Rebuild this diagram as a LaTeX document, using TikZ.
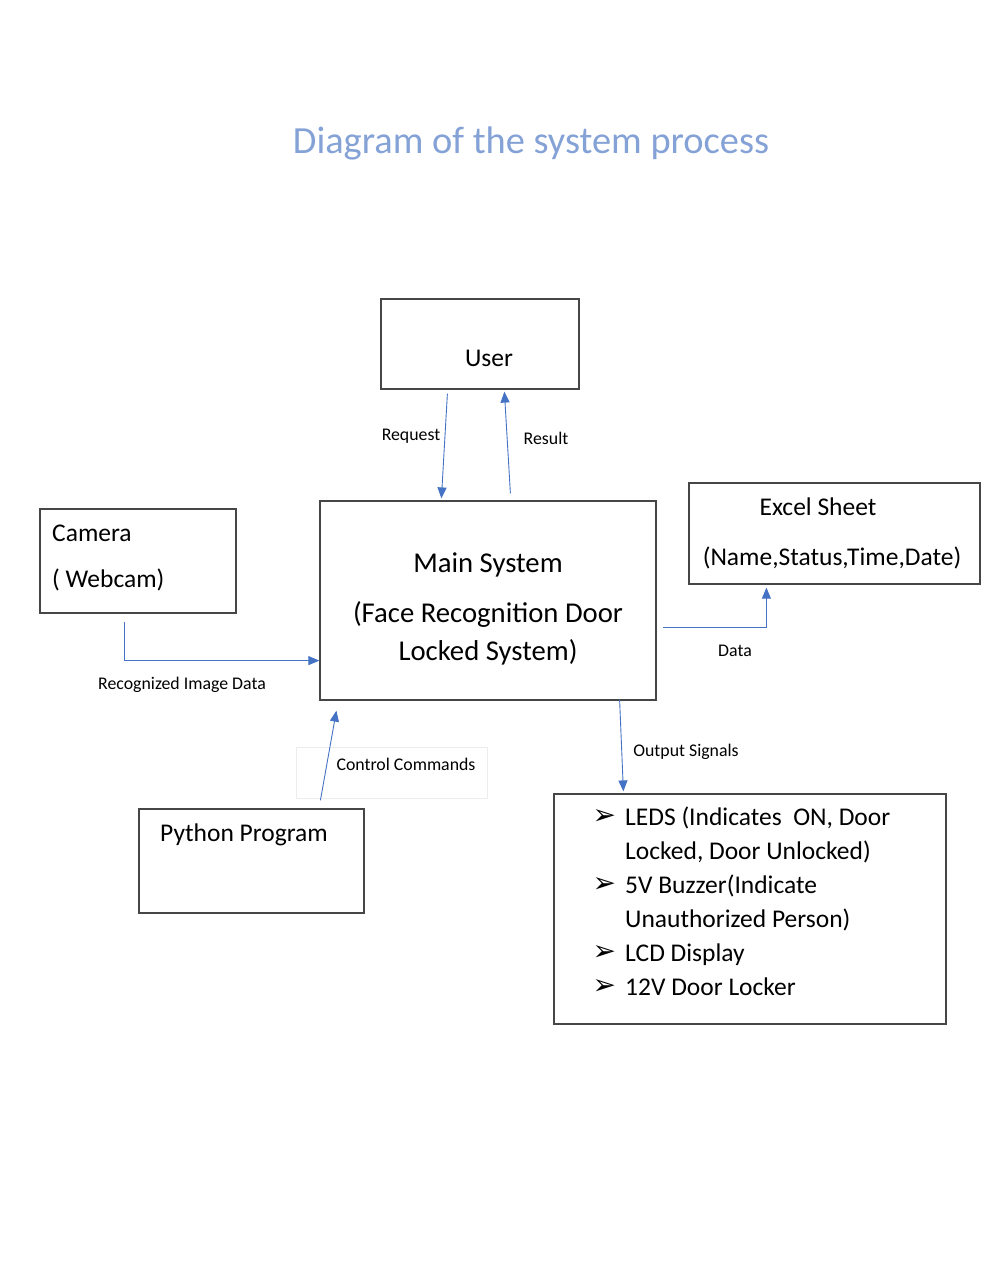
\documentclass[tikz,border=0pt]{standalone}
\usepackage{fontspec}
\setmainfont{Carlito}
\newfontfamily\dingfont{DejaVu Sans}
\usetikzlibrary{arrows.meta}
\definecolor{flowblue}{RGB}{68,114,196}
\definecolor{titleblue}{RGB}{132,162,214}
\definecolor{boxgray}{RGB}{70,70,70}
\definecolor{faintgray}{RGB}{236,236,236}
\newcommand{\bul}{\llap{\raisebox{1pt}{\dingfont\fontsize{28}{28}\selectfont ➢}\hspace{9pt}}}
\begin{document}
\begin{tikzpicture}[
        x=1pt, y=-1pt,
        box/.style={draw=boxgray, line width=1.2pt, inner sep=0pt},
        mid/.style={anchor=base, inner sep=0pt, font=\fontsize{25.5}{30}\selectfont},
        big/.style={anchor=base, inner sep=0pt, font=\fontsize{28.7}{34}\selectfont},
        small/.style={anchor=base, inner sep=0pt, font=\fontsize{17.8}{21}\selectfont},
        flow/.style={draw=flowblue, line width=0.9pt, -{Triangle[length=11pt,width=9pt]}}
    ]
 \useasboundingbox (0,0) rectangle (989,1280);
 \node[anchor=base, inner sep=0pt, text=titleblue, font=\fontsize{38.4}{46}\selectfont] (title) at (531,153) {Diagram of the system process};

 \node[box, minimum width=198pt, minimum height=90pt]  (user)   at (480,344)   {};
 \node[box, minimum width=336pt, minimum height=199pt] (main)   at (488,600.5) {};
 \node[box, minimum width=196pt, minimum height=104pt] (camera) at (138,561)   {};
 \node[box, minimum width=291pt, minimum height=101pt] (excel)  at (834.5,533.5) {};
 \node[box, minimum width=225pt, minimum height=104pt] (python) at (251.5,861) {};
 \node[box, minimum width=392pt, minimum height=230pt] (output) at (750,909)   {};
 \node[draw=faintgray, line width=0.8pt, minimum width=191pt, minimum height=51pt, inner sep=0pt] (ctrlbox) at (391.5,772.5) {};

 \node[mid] (usertxt) at (489,366) {User};
 \node[big] (maintxt1) at (488,572) {Main System};
 \node[big] (maintxt2) at (488,622) {(Face Recognition Door};
 \node[big] (maintxt3) at (488,660) {Locked System)};
 \node[mid, anchor=base west] (camtxt1) at (52,541) {Camera};
 \node[mid, anchor=base west] (camtxt2) at (52,587) {( Webcam)};
 \node[mid] (exceltxt1) at (818,515) {Excel Sheet};
 \node[mid] (exceltxt2) at (832,565) {(Name,Status,Time,Date)};
 \node[mid, anchor=base west] (pytxt) at (160,841) {Python Program};

 \node[mid, anchor=base west] (out1) at (625,825) {\bul LEDS (Indicates\ \ ON, Door};
 \node[mid, anchor=base west] (out2) at (625,859) {Locked, Door Unlocked)};
 \node[mid, anchor=base west] (out3) at (625,893) {\bul 5V Buzzer(Indicate};
 \node[mid, anchor=base west] (out4) at (625,927) {Unauthorized Person)};
 \node[mid, anchor=base west] (out5) at (625,961) {\bul LCD Display};
 \node[mid, anchor=base west] (out6) at (625,995) {\bul 12V Door Locker};

 \node[small] (reqlbl) at (411,440) {Request};
 \node[small] (reslbl) at (546,444) {Result};
 \node[small] (imglbl) at (182,689) {Recognized Image Data};
 \node[small] (datalbl) at (735,656) {Data};
 \node[small] (outlbl) at (686,756) {Output Signals};
 \node[small] (ctrllbl) at (406,770) {Control Commands};

 \draw[flow] ([xshift=67pt,yshift=-4pt]user.south west) -- ([xshift=122pt,yshift=2pt]main.north west);
 \draw[flow] ([xshift=191pt,yshift=7pt]main.north west) -- ([xshift=124pt,yshift=-2pt]user.south west);
 \draw[flow] ([xshift=85pt,yshift=-8pt]camera.south west) |- ([yshift=40pt]main.south west);
 \draw[flow] ([xshift=6pt,yshift=-127pt]main.north east) -| ([xshift=78pt,yshift=-3pt]excel.south west);
 \draw[flow] ([xshift=-37pt,yshift=1pt]main.south east) -- ([xshift=70pt,yshift=2pt]output.north west);
 \draw[flow] ([xshift=182pt,yshift=8pt]python.north west) -- ([xshift=17pt,yshift=-10pt]main.south west);
\end{tikzpicture}
\end{document}
